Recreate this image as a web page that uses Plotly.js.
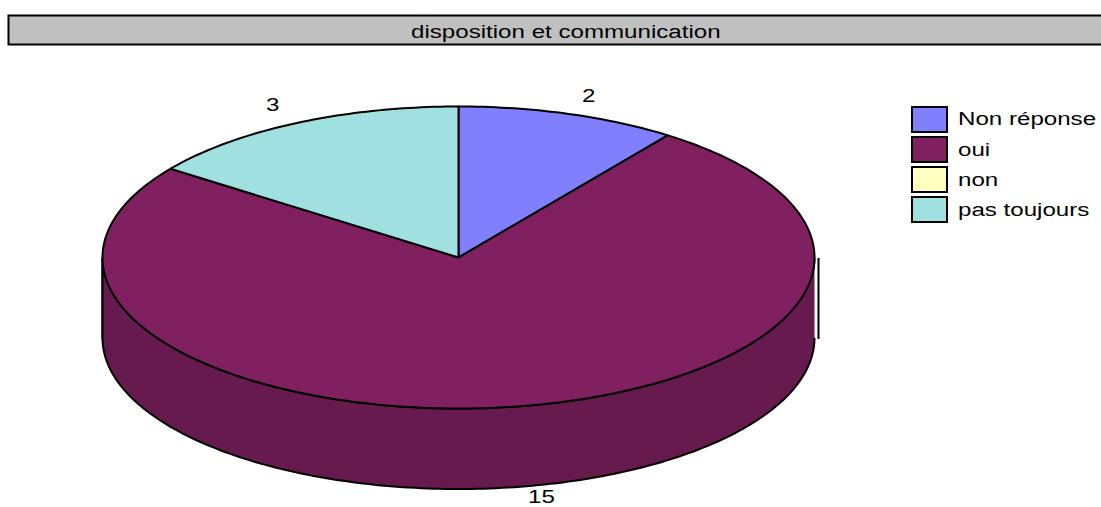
<!DOCTYPE html>
<html><head><meta charset="utf-8">
<script src="https://cdn.plot.ly/plotly-3.0.1.min.js"></script>
<style>
html,body{margin:0;padding:0;background:#fff;overflow:hidden}
#chart{width:1101px;height:507px}
.annotation-text{transform-box:fill-box;transform-origin:left center;transform:scaleX(1.27)}
</style></head><body><div id="chart"></div>
<script>
const chartTitle = 'disposition et communication';
const categories = ['Non réponse', 'oui', 'non', 'pas toujours'];
const values = [2, 15, 0, 3];
const colors = ['#8080FF', '#802060', '#FFFFC0', '#A0E0E0'];
const sideColor = '#661A4D';

const cx = 458.5, cy = 257.5, rx = 356, ry = 151, depth = 80.5;
const total = values.reduce((a, b) => a + b, 0);
const px = t => cx + rx * Math.sin(t);
const py = t => cy - ry * Math.cos(t);

const traces = [];
// pie wall: the visible front half of the rim, which belongs to "oui"
const wx = [], wy = [];
for (let d = 90; d <= 270; d += 1) { const t = d * Math.PI / 180; wx.push(px(t)); wy.push(py(t) + depth); }
for (let d = 270; d >= 90; d -= 1) { const t = d * Math.PI / 180; wx.push(px(t)); wy.push(py(t)); }
traces.push({x: wx, y: wy, mode: 'lines', fill: 'toself', fillcolor: sideColor,
  line: {color: '#000', width: 2, simplify: false}, hoverinfo: 'skip', showlegend: false});

let acc = 0;
categories.forEach((c, i) => {
  const a0 = acc / total * 2 * Math.PI;
  acc += values[i];
  const a1 = acc / total * 2 * Math.PI;
  const xs = [cx], ys = [cy];
  const n = Math.max(1, Math.ceil((a1 - a0) / (Math.PI / 180)));
  for (let k = 0; k <= n; k++) { const t = a0 + (a1 - a0) * k / n; xs.push(px(t)); ys.push(py(t)); }
  xs.push(cx); ys.push(cy);
  traces.push({x: xs, y: ys, name: c, mode: 'lines', fill: 'toself', fillcolor: colors[i],
    line: {color: '#000', width: 2, simplify: false}, text: c + ': ' + values[i], hoverinfo: 'text',
    visible: values[i] > 0 ? true : false, showlegend: false});
});

const font = {family: '"Liberation Sans", Arial, sans-serif', size: 19, color: '#000'};
const ann = (x, y, text) => ({x, y, text, xref: 'x', yref: 'y', showarrow: false,
  xanchor: 'left', yanchor: 'middle', font, borderpad: 0, borderwidth: 0});

const shapes = [
  {type: 'rect', x0: 8.5, x1: 1110, y0: 15.5, y1: 44.5, fillcolor: '#C0C0C0', line: {color: '#000', width: 2}, layer: 'below'},
  {type: 'line', x0: 818.5, x1: 818.5, y0: 258, y1: 339, line: {color: '#000', width: 2}},
  {type: 'line', x0: 102, x1: 102, y0: 258, y1: 339, line: {color: colors[1], width: 1.5}, layer: 'below'}
];
const annotations = [ann(411, 32, chartTitle)];
const labelX = [582, 528, null, 266];
const labelY = [96, 496.5, null, 105];
values.forEach((v, i) => { if (v > 0) annotations.push(ann(labelX[i], labelY[i], String(v))); });
const swatchTop = [107, 137, 167, 197];
const legendTextY = [119, 150, 180, 210];
categories.forEach((c, i) => {
  shapes.push({type: 'rect', x0: 912, x1: 947, y0: swatchTop[i], y1: swatchTop[i] + 25,
    fillcolor: colors[i], line: {color: '#000', width: 2}});
  annotations.push(ann(958, legendTextY[i], c));
});

Plotly.newPlot('chart', traces, {
  width: 1101, height: 507, margin: {l: 0, r: 0, t: 0, b: 0},
  paper_bgcolor: '#fff', plot_bgcolor: '#fff', showlegend: false,
  xaxis: {range: [0, 1101], visible: false, fixedrange: true},
  yaxis: {range: [507, 0], visible: false, fixedrange: true},
  shapes, annotations
}, {displayModeBar: false, staticPlot: false});
</script></body></html>
